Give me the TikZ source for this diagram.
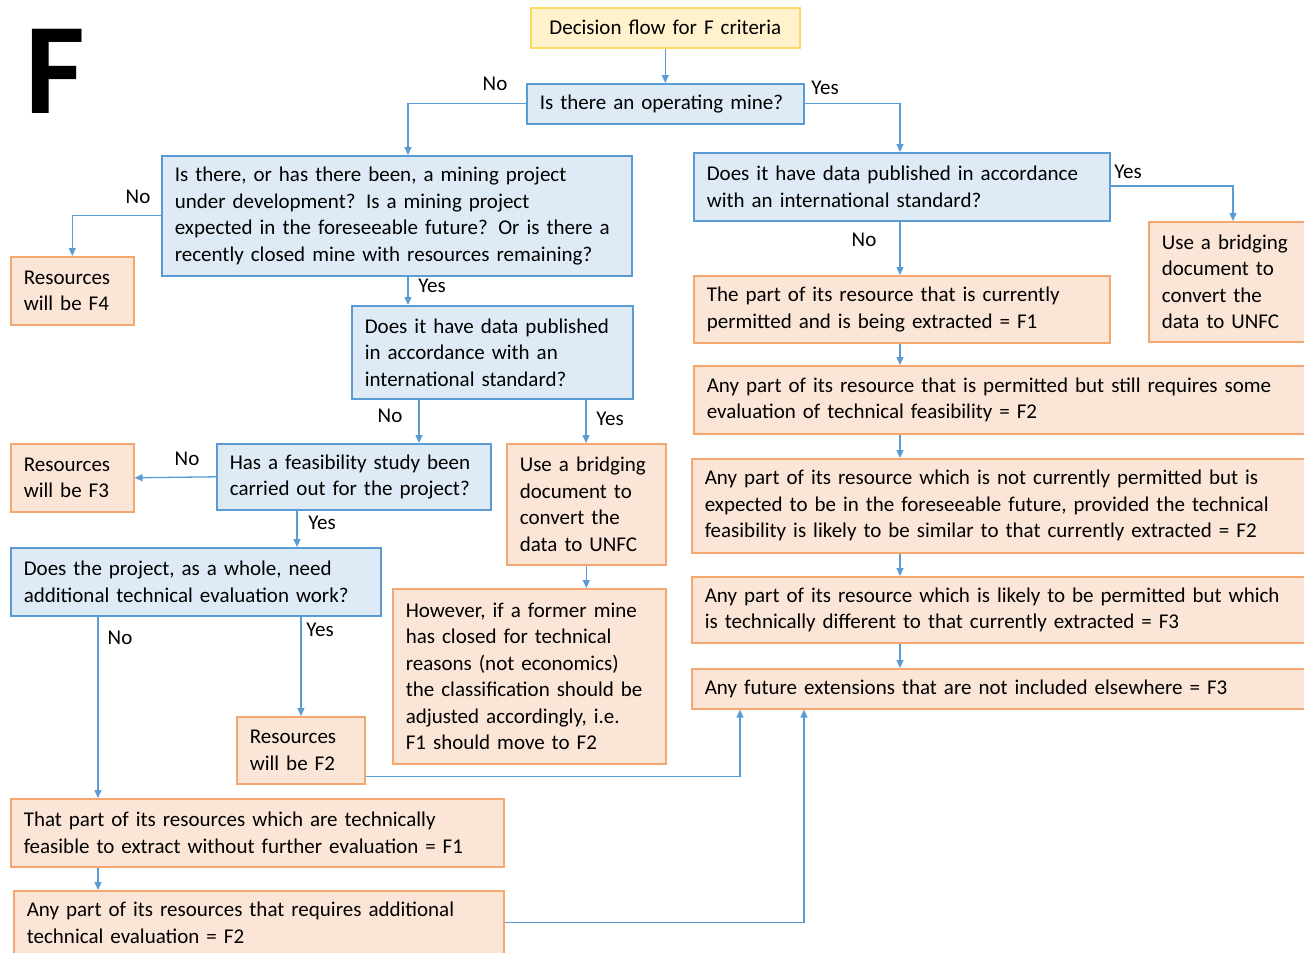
\documentclass[tikz,border=0pt]{standalone}
\usepackage{fontspec}
\setmainfont{Carlito}
\usetikzlibrary{arrows.meta}
\definecolor{bfill}{HTML}{DEEBF7}
\definecolor{bline}{HTML}{5B9BD5}
\definecolor{ofill}{HTML}{FBE5D6}
\definecolor{oline}{HTML}{F4A76E}
\definecolor{yfill}{HTML}{FFF2CC}
\definecolor{yline}{HTML}{FFD966}
\tikzset{
 base/.style={draw, line width=1.6pt, anchor=north west, inner xsep=13pt, inner ysep=0pt, align=left, font=\fontsize{21}{26.5}\selectfont, text=black},
 qbox/.style={base, fill=bfill, draw=bline},
 rbox/.style={base, fill=ofill, draw=oline},
 ybox/.style={base, fill=yfill, draw=yline, align=center},
 arr/.style={draw=bline, line width=1.3pt, -{Triangle[length=8pt,width=7pt]}},
 lab/.style={font=\fontsize{21}{24}\selectfont, text=black, inner sep=0pt},
}
\begin{document}
\begin{tikzpicture}[x=1pt,y=1pt]
\useasboundingbox (0,0) rectangle (1304,-953);
\node[font=\fontsize{130}{130}\bfseries\selectfont, inner sep=0pt] (bigF) at (55,-71) {F};
% boxes
\node[ybox, minimum width=269pt, minimum height=40pt, text width=243pt] (title) at (530,-7) {Decision flow for F criteria};
\node[qbox, minimum width=277pt, minimum height=40pt, text width=251pt] (op) at (526,-83) {Is there an operating mine?};
\node[qbox, minimum width=470pt, minimum height=120pt, text width=444pt] (proj) at (161,-155) {Is there, or has there been, a mining project\\under development? Is a mining project\\expected in the foreseeable future? Or is there a\\recently closed mine with resources remaining?};
\node[rbox, minimum width=123pt, minimum height=68pt, text width=97pt] (f4) at (10,-256) {Resources\\will be F4};
\node[qbox, minimum width=281pt, minimum height=93pt, text width=255pt] (data2) at (351,-305) {Does it have data published\\in accordance with an\\international standard?};
\node[qbox, minimum width=274pt, minimum height=66pt, text width=248pt] (feas) at (216,-443) {Has a feasibility study been\\carried out for the project?};
\node[rbox, minimum width=123pt, minimum height=68pt, text width=97pt] (f3) at (10,-443) {Resources\\will be F3};
\node[rbox, minimum width=159pt, minimum height=121pt, text width=133pt] (bridge2) at (506,-443) {Use a bridging\\document to\\convert the\\data to UNFC};
\node[rbox, minimum width=273pt, minimum height=175pt, text width=247pt] (however) at (392,-588) {However, if a former mine\\has closed for technical\\reasons (not economics)\\the classification should be\\adjusted accordingly, i.e.\\F1 should move to F2};
\node[qbox, minimum width=370pt, minimum height=68pt, text width=344pt] (whole) at (10,-547) {Does the project, as a whole, need\\additional technical evaluation work?};
\node[rbox, minimum width=128pt, minimum height=67pt, text width=102pt] (f2) at (236,-716) {Resources\\will be F2};
\node[rbox, minimum width=493pt, minimum height=68pt, text width=467pt] (f1l) at (10,-798) {That part of its resources which are technically\\feasible to extract without further evaluation = F1};
\node[rbox, minimum width=490pt, minimum height=64pt, text width=464pt] (f2l) at (13,-890) {Any part of its resources that requires additional\\technical evaluation = F2};
\node[qbox, minimum width=416pt, minimum height=68pt, text width=390pt] (data1) at (693,-152) {Does it have data published in accordance\\with an international standard?};
\node[rbox, minimum width=160pt, minimum height=120pt, text width=134pt] (bridge1) at (1148,-221) {Use a bridging\\document to\\convert the\\data to UNFC};
\node[rbox, minimum width=416pt, minimum height=67pt, text width=390pt] (r1) at (693,-275) {The part of its resource that is currently\\permitted and is being extracted = F1};
\node[rbox, minimum width=620pt, minimum height=68pt, text width=594pt] (r2) at (693,-365) {Any part of its resource that is permitted but still requires some\\evaluation of technical feasibility = F2};
\node[rbox, minimum width=622pt, minimum height=94pt, text width=596pt] (r3) at (691,-458) {Any part of its resource which is not currently permitted but is\\expected to be in the foreseeable future, provided the technical\\feasibility is likely to be similar to that currently extracted = F2};
\node[rbox, minimum width=622pt, minimum height=66pt, text width=596pt] (r4) at (691,-576) {Any part of its resource which is likely to be permitted but which\\is technically different to that currently extracted = F3};
\node[rbox, minimum width=622pt, minimum height=40pt, text width=596pt] (r5) at (691,-668) {Any future extensions that are not included elsewhere = F3};
% connectors
\draw[arr] (title.south) -- (op.north);
\draw[arr] (op.west) -| ([xshift=247pt]proj.north west);
\draw[arr] (op.east) -| ([xshift=207pt]data1.north west);
\draw[arr] (proj.west) -| (f4.north);
\draw[arr] ([xshift=247pt]proj.south west) -- ([xshift=57pt]data2.north west);
\draw[arr] ([xshift=68pt]data2.south west) -- ([xshift=203pt]feas.north west);
\draw[arr] ([xshift=235pt]data2.south west) -- ([xshift=80pt]bridge2.north west);
\draw[arr] (feas.west) -- (f3.east);
\draw[arr] ([xshift=81pt]feas.south west) -- ([xshift=287pt]whole.north west);
\draw[arr] (bridge2.south) -- (bridge2.south |- however.north);
\draw[arr] ([xshift=88pt]whole.south west) -- ([xshift=88pt]f1l.north west);
\draw[arr] ([xshift=291pt]whole.south west) -- ([xshift=65pt]f2.north west);
\draw[arr] ([yshift=8pt]f2.south east) -| ([xshift=49pt]r5.south west);
\draw[arr] ([xshift=88pt]f1l.south west) -- ([xshift=85pt]f2l.north west);
\draw[arr] (f2l.east) -| ([xshift=113pt]r5.south west);
\draw[arr] ([yshift=-34pt]data1.north east) -| ([xshift=85pt]bridge1.north west);
\draw[arr] ([xshift=207pt]data1.south west) -- ([xshift=207pt]r1.north west);
\draw[arr] ([xshift=207pt]r1.south west) -- ([xshift=207pt]r2.north west);
\draw[arr] ([xshift=207pt]r2.south west) -- ([xshift=209pt]r3.north west);
\draw[arr] ([xshift=209pt]r3.south west) -- ([xshift=209pt]r4.north west);
\draw[arr] ([xshift=209pt]r4.south west) -- ([xshift=209pt]r5.north west);
% labels
\node[lab] (l1) at (495,-84) {No};
\node[lab] (l2) at (825,-88) {Yes};
\node[lab] (l3) at (138,-197) {No};
\node[lab] (l4) at (432,-286) {Yes};
\node[lab] (l5) at (390,-416) {No};
\node[lab] (l6) at (610,-419) {Yes};
\node[lab] (l7) at (187,-459) {No};
\node[lab] (l8) at (322,-523) {Yes};
\node[lab] (l9) at (120,-638) {No};
\node[lab] (l10) at (320,-630) {Yes};
\node[lab] (l11) at (1128,-172) {Yes};
\node[lab] (l12) at (864,-240) {No};
\end{tikzpicture}
\end{document}
